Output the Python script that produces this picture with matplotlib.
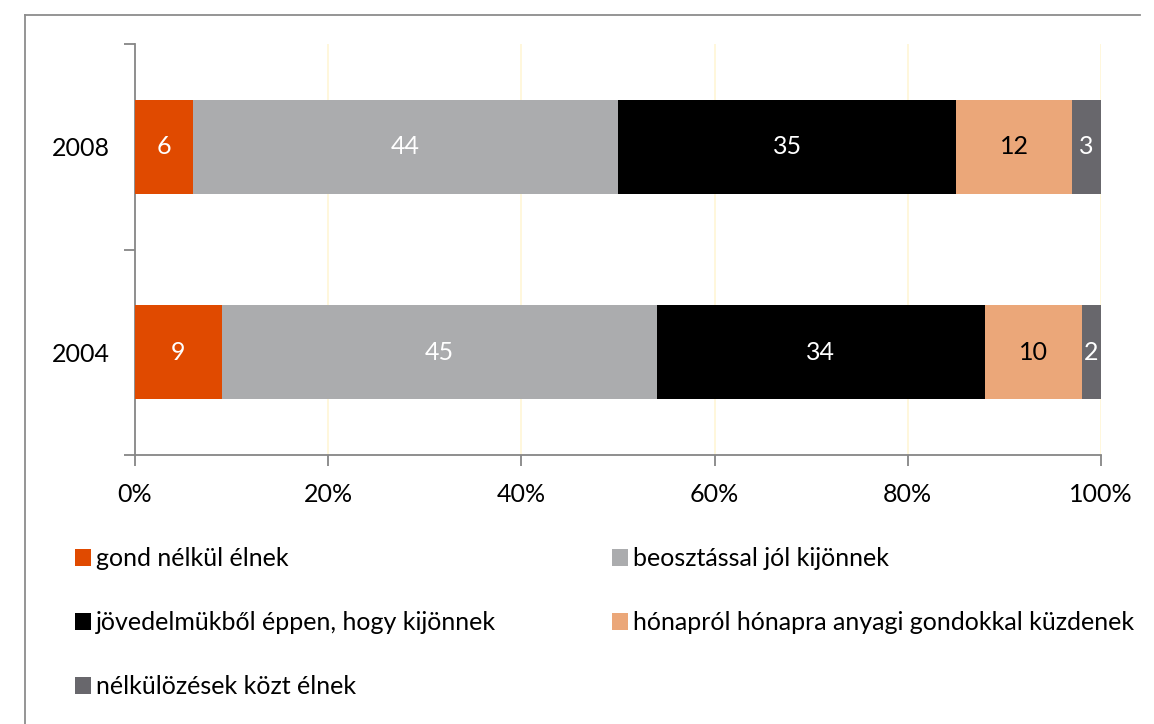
import numpy as np
import matplotlib
matplotlib.use('Agg')
import matplotlib.pyplot as plt
from matplotlib.patches import Patch
from matplotlib.lines import Line2D

plt.rcParams['font.family'] = ['Lato', 'DejaVu Sans']

# data
years = ['2004', '2008']
categories = ['gond nélkül élnek',
              'beosztással jól kijönnek',
              'jövedelmükből éppen, hogy kijönnek',
              'hónapról hónapra anyagi gondokkal küzdenek',
              'nélkülözések közt élnek']
values = {
    '2004': [9, 45, 34, 10, 2],
    '2008': [6, 44, 35, 12, 3],
}
colors = ['#E04A00', '#ABACAE', '#000000', '#EBA779', '#68676C']
label_colors = ['white', 'white', 'white', 'black', 'white']
x_ticks = [0, 20, 40, 60, 80, 100]

fig = plt.figure(figsize=(11.54, 7.24), dpi=100)
ax = fig.add_axes([135/1154, 1-455/724, (1101-135)/1154, (455-44)/724])

axis_col = '#868686'
fs = 18

for yi, yr in enumerate(years):
    vals = np.array(values[yr], dtype=float)
    total = vals.sum()
    left = 0.0
    for ci, v in enumerate(vals):
        w = v / total * 100
        ax.barh(yi, w, left=left, height=0.455, color=colors[ci], zorder=3)
        ax.text(left + w / 2, yi, '%d' % v, ha='center', va='center',
                color=label_colors[ci], fontsize=fs, zorder=4)
        left += w

ax.set_xlim(0, 100)
ax.set_ylim(-0.5, 1.5)
ax.set_xticks(x_ticks)
ax.set_xticklabels(['%d%%' % t for t in x_ticks], fontsize=fs)
for t in x_ticks[1:]:
    ax.axvline(t, color='#FFF6D5', lw=1.2, zorder=1)

ax.set_yticks([-0.5, 0.5, 1.5])
ax.set_yticklabels([])
ax.set_yticks([0, 1], minor=True)
ax.set_yticklabels(years, minor=True, fontsize=fs)
ax.tick_params(axis='y', which='minor', length=0, pad=18)
ax.tick_params(axis='y', which='major', length=8, width=1.3, color=axis_col)
ax.tick_params(axis='x', length=8, width=1.3, color=axis_col, pad=12)

for s in ['top', 'right']:
    ax.spines[s].set_visible(False)
for s in ['left', 'bottom']:
    ax.spines[s].set_color(axis_col)
    ax.spines[s].set_linewidth(1.3)

# outer frame (left and top visible)
fig.add_artist(Line2D([25/1154, 25/1154], [0, 1-15/724], color='#8C8C8C', lw=1.3,
                      transform=fig.transFigure))
fig.add_artist(Line2D([25/1154, 1140/1154], [1-15/724, 1-15/724], color='#8C8C8C', lw=1.3,
                      transform=fig.transFigure))

# legend in two columns, row-wise order
handles = [Patch(facecolor=c) for c in colors]
left_idx = [0, 2, 4]
right_idx = [1, 3]
leg_kw = dict(frameon=False, fontsize=fs, handlelength=0.65, handleheight=0.65,
              handletextpad=0.2, labelspacing=1.65, borderaxespad=0, borderpad=0)
fig.legend([handles[i] for i in left_idx], [categories[i] for i in left_idx],
           loc='upper left', bbox_to_anchor=(75/1154, 1-547/724), **leg_kw)
fig.legend([handles[i] for i in right_idx], [categories[i] for i in right_idx],
           loc='upper left', bbox_to_anchor=(612/1154, 1-547/724), **leg_kw)

fig.savefig('out.png', dpi=100)
